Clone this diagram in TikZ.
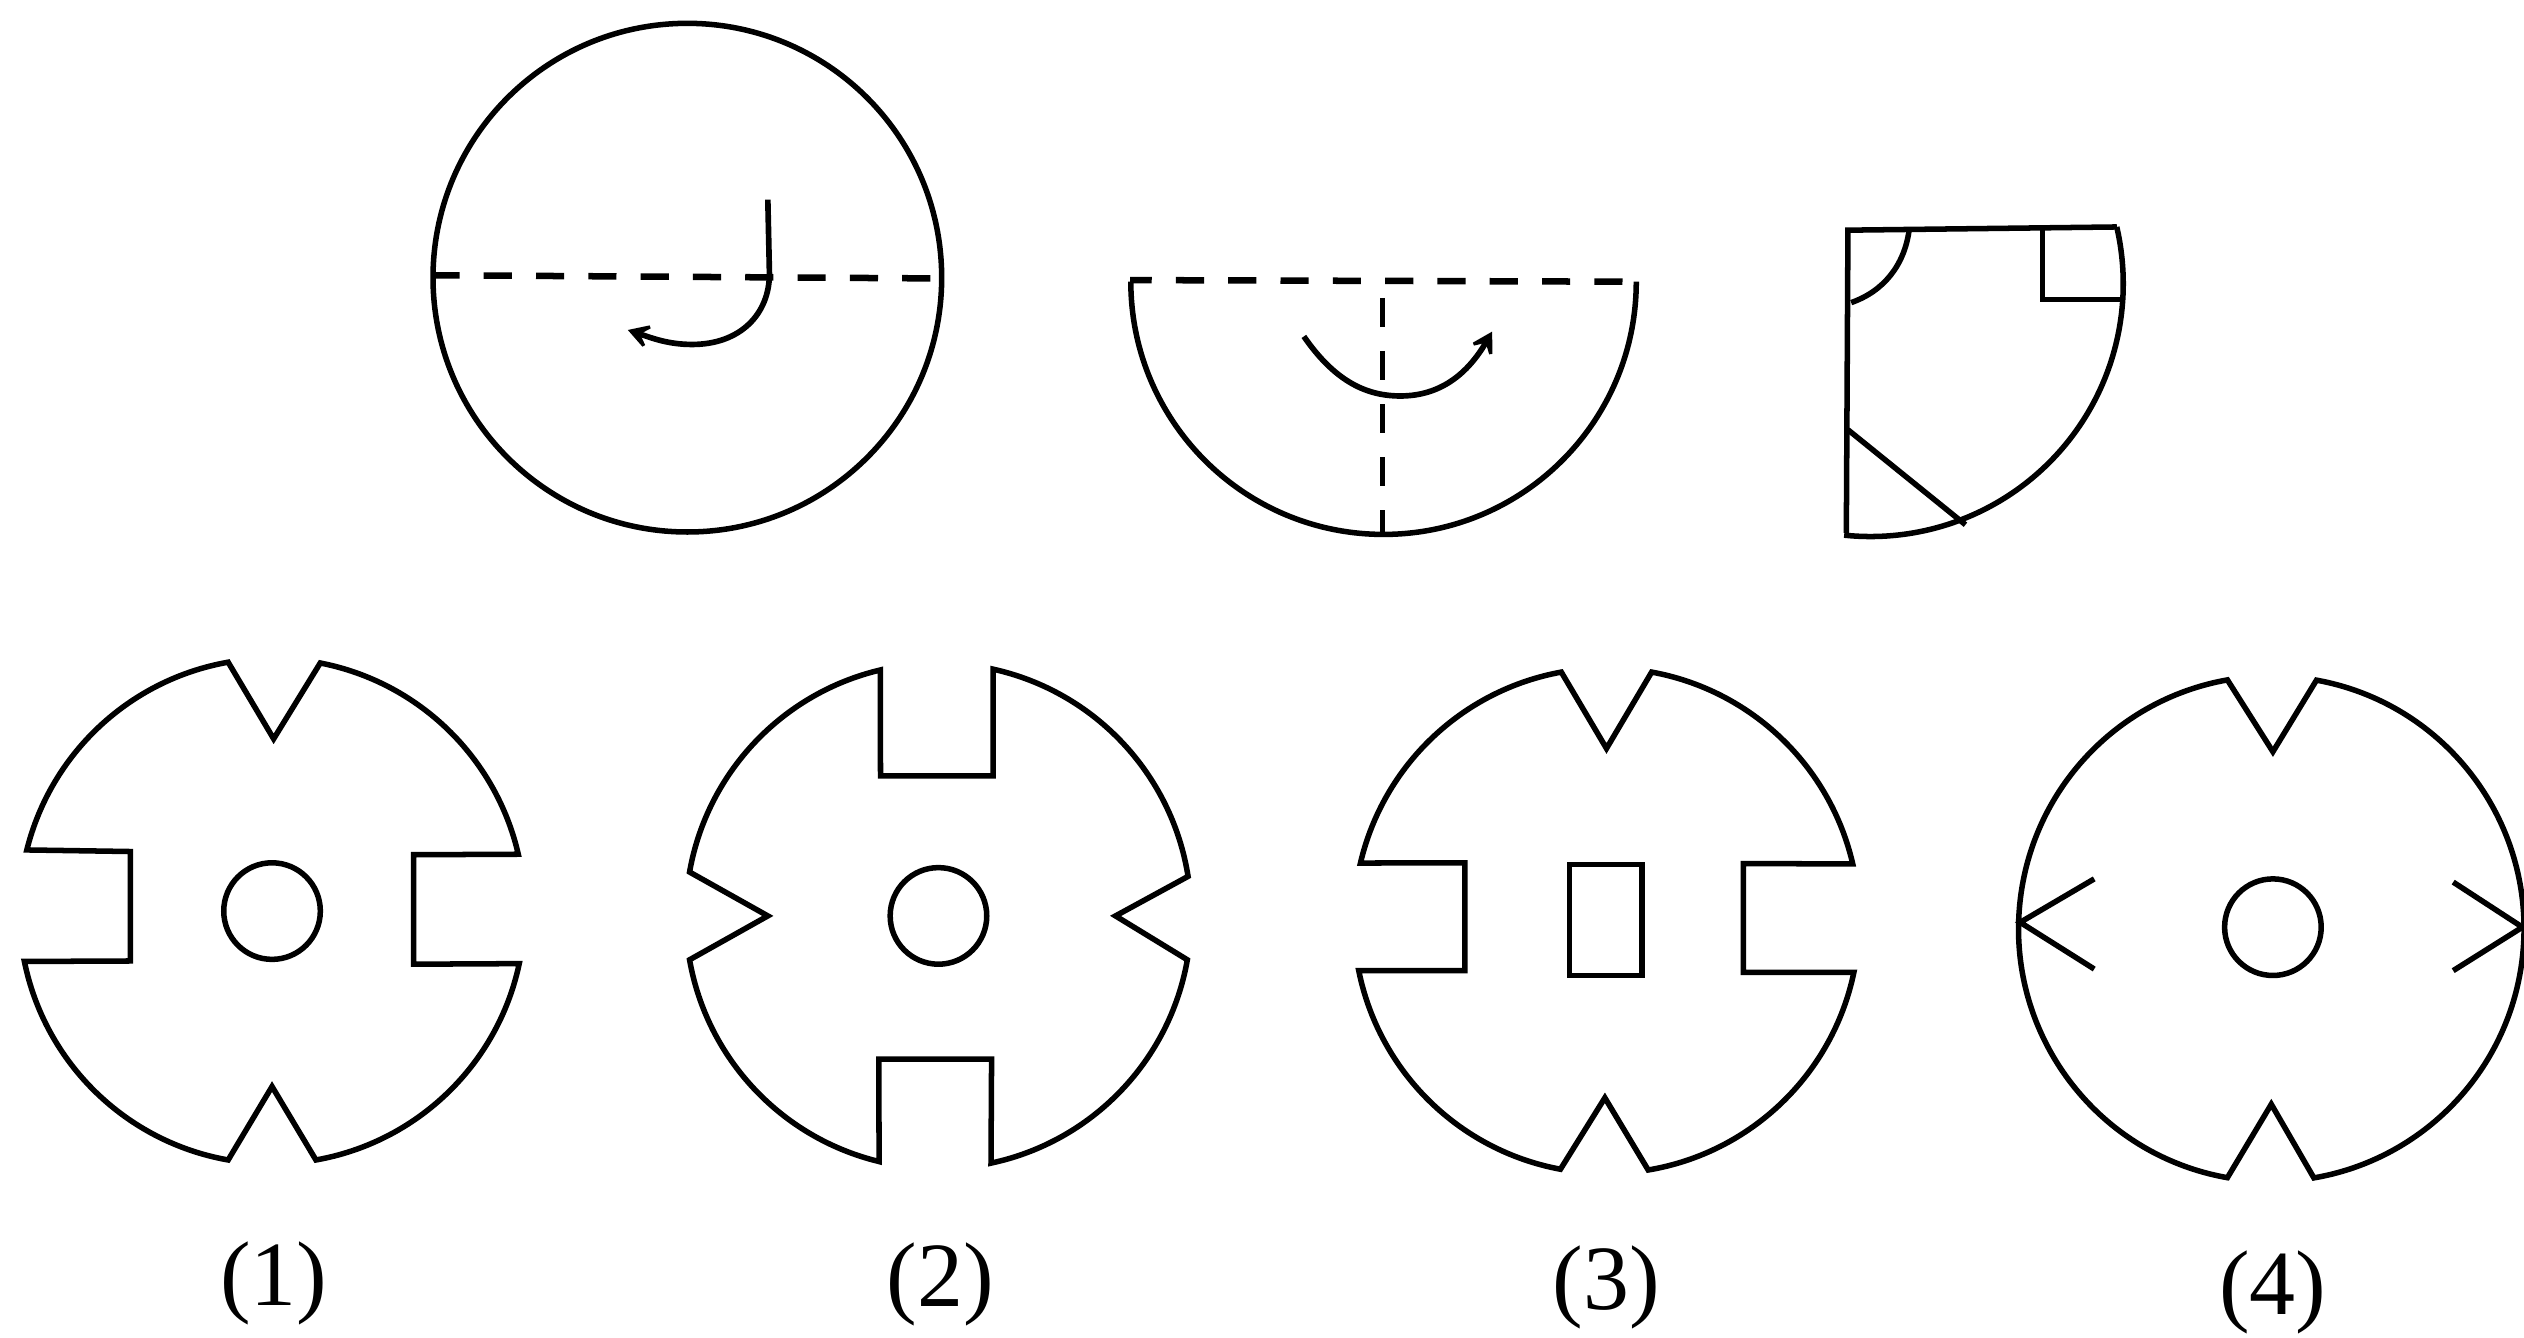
\documentclass[tikz,border=0pt]{standalone}
\usepackage{fontspec}
\setmainfont{Liberation Serif}
\usetikzlibrary{arrows.meta}
\tikzset{
  ln/.style={line width=1.95pt,line join=miter,miter limit=4,black},
  dsh/.style={line width=2.3pt,dash pattern=on 0.35cm off 0.3cm,black},
  barb/.style={-{Stealth[length=0.36cm,width=0.42cm,inset=0.2cm]},line width=2pt},
  lab/.style={font=\fontsize{32.5}{36}\selectfont,inner sep=0pt,anchor=center}
}
\begin{document}
\begin{tikzpicture}[x=0.02cm,y=0.02cm]
\useasboundingbox (0,-830.6) rectangle (1568,0);
\fill[white] (0,-830.6) rectangle (1568,0);

% top row
\draw[ln] (427,-172.5) circle[radius=158];
\draw[dsh,dash phase=0.04cm] (270,-171) -- (585,-173);
\draw[ln,barb] (477,-124) -- (478,-170) .. controls (478,-195) and (460,-214) .. (430,-214) .. controls (415,-214) and (405,-210) .. (390,-205);

\draw[ln] (702.5,-175) arc[start angle=180,end angle=360,radius=157];
\draw[dsh,dash phase=0.08cm] (702,-174) -- (1009,-175);
\draw[dsh,line width=1.9pt,dash pattern=on 0.36cm off 0.3cm] (859,-185) -- (859,-332);
\draw[ln,barb] (810,-209) .. controls (830,-238) and (850,-246) .. (870,-246) .. controls (895,-246) and (912,-232) .. (927,-206);

\draw[ln] (1315,-141) -- (1148,-143) -- (1147,-331);
\draw[ln] (1315,-141) arc[start angle=13,end angle=-96,radius=157];
\draw[ln] (1269,-143) -- (1269,-186) -- (1319,-186);
\draw[ln] (1186,-143) .. controls (1183,-165) and (1170,-181) .. (1150,-188);
\draw[ln] (1148,-267) -- (1221,-326);

% option 1
\begin{scope}[shift={(169,-566)}]
\draw[ln] (100:157) -- (1,107) -- (79:157) arc[start angle=79,end angle=13,radius=157]
  -- (88,35) -- (88,-33) -- (-12:157) arc[start angle=-12,end angle=-80,radius=157]
  -- (0,-109) -- (-100:157) arc[start angle=-100,end angle=-168.5,radius=157]
  -- (-88,-31) -- (-88,37) -- (166:157) arc[start angle=166,end angle=100,radius=157] -- cycle;
\draw[ln] (0,0) circle[radius=30];
\end{scope}
\node[lab] (l1) at (170,-797) {(1)};

% option 2
\begin{scope}[shift={(583,-569)}]
\draw[ln] (103.3:157) -- (-36,87) -- (34,87) -- (77.5:157) arc[start angle=77.5,end angle=9,radius=157]
  -- (110,0) -- (-10:157) arc[start angle=-10,end angle=-78,radius=157]
  -- (33,-89) -- (-37,-89) -- (-103.6:157) arc[start angle=-103.6,end angle=-170,radius=157]
  -- (-106,0) -- (170:157) arc[start angle=170,end angle=103.3,radius=157] -- cycle;
\draw[ln] (0,0) circle[radius=30];
\end{scope}
\node[lab] (l2) at (584,-798) {(2)};

% option 3
\begin{scope}[shift={(998,-572)}]
\draw[ln] (100.3:157) -- (0,107) -- (79.7:157) arc[start angle=79.7,end angle=13,radius=157]
  -- (85,35.5) -- (85,-32) -- (-11.8:157) arc[start angle=-11.8,end angle=-80.5,radius=157]
  -- (-1,-110) -- (-100.5:157) arc[start angle=-100.5,end angle=-168.6,radius=157]
  -- (-88,-31) -- (-88,36) -- (166.8:157) arc[start angle=166.8,end angle=100.3,radius=157] -- cycle;
\end{scope}
\draw[ln] (975,-537) rectangle (1020,-606);
\node[lab] (l3) at (998,-800) {(3)};

% option 4
\begin{scope}[shift={(1411,-577)}]
\draw[ln] (100:157) -- (1,110) -- (79.7:157) arc[start angle=79.7,end angle=-80.3,radius=157]
  -- (0,-109) -- (-100:157) arc[start angle=-100,end angle=-260,radius=157] -- cycle;
\draw[ln] (1,1) circle[radius=30];
\end{scope}
\draw[ln] (1301,-546) -- (1255,-573) -- (1301,-602);
\draw[ln] (1524,-548) -- (1567,-576) -- (1524,-603);
\node[lab] (l4) at (1412,-803) {(4)};
\end{tikzpicture}
\end{document}
